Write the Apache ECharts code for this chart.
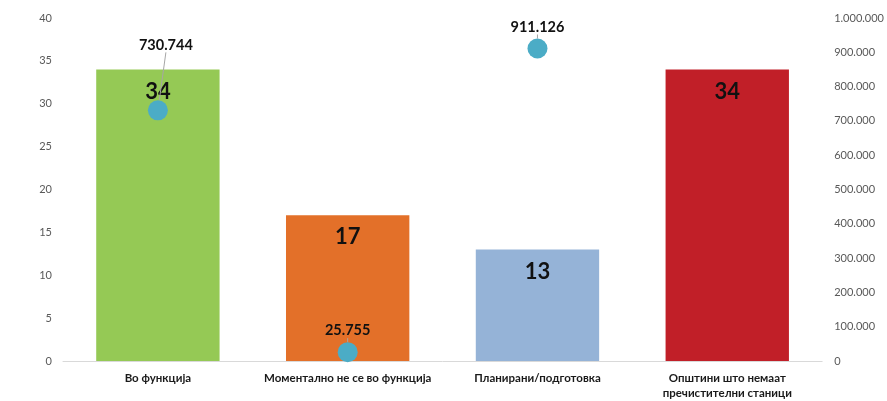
<!DOCTYPE html>
<html>
<head>
<meta charset="utf-8">
<script src="https://cdn.jsdelivr.net/npm/echarts@6/dist/echarts.min.js"></script>
<style>
  html, body { margin: 0; padding: 0; background: #fff; overflow: hidden; }
  #chart { width: 887px; height: 401px; }
</style>
</head>
<body>
<div id="chart"></div>
<script>
// Wastewater treatment status by municipality count, with population served
const categories = [
  'Во функција',
  'Моментално не се во функција',
  'Планирани/подготовка',
  'Општини што немаат\nпречистителни станици'
];
const municipalityCounts = [34, 17, 13, 34];
const population = [730744, 25755, 911126, null];
const barColors = ['#95C955', '#E37029', '#95B3D7', '#C11F28'];
const leftTicks = [0, 40, 5];        // min, max, interval
const rightTicks = [0, 1000000, 100000];

const FONT = 'Lato, "Open Sans", sans-serif';

function fmtThousands(v) {
  return String(Math.round(v)).replace(/\B(?=(\d{3})+(?!\d))/g, '.');
}

const chart = echarts.init(document.getElementById('chart'), null, { renderer: 'canvas' });

chart.setOption({
  animation: false,
  textStyle: { fontFamily: FONT },
  grid: { left: 63, right: 62, top: 18, bottom: 37, containLabel: false },
  xAxis: {
    type: 'category',
    data: categories,
    axisLine: { show: true, lineStyle: { color: '#D9D9D9', width: 1 } },
    axisTick: { show: false },
    axisLabel: {
      color: '#1a1a1a',
      fontWeight: 'bold',
      fontSize: 11.5,
      fontFamily: FONT,
      margin: 10,
      lineHeight: 15,
      interval: 0
    }
  },
  yAxis: [
    {
      type: 'value',
      min: leftTicks[0], max: leftTicks[1], interval: leftTicks[2],
      axisLine: { show: false },
      axisTick: { show: false },
      splitLine: { show: false },
      axisLabel: { color: '#595959', fontSize: 11, fontFamily: FONT, margin: 11 }
    },
    {
      type: 'value',
      position: 'right',
      min: rightTicks[0], max: rightTicks[1], interval: rightTicks[2],
      axisLine: { show: false },
      axisTick: { show: false },
      splitLine: { show: false },
      axisLabel: {
        color: '#595959', fontSize: 11, fontFamily: FONT, margin: 12,
        formatter: v => fmtThousands(v)
      }
    }
  ],
  series: [
    {
      type: 'bar',
      yAxisIndex: 0,
      barWidth: '65%',
      data: municipalityCounts.map((v, i) => ({ value: v, itemStyle: { color: barColors[i] } })),
      label: {
        show: true,
        position: 'insideTop',
        distance: 11,
        color: '#111',
        fontSize: 22,
        fontWeight: 'bold',
        fontFamily: FONT
      },
      z: 1
    },
    {
      type: 'scatter',
      yAxisIndex: 1,
      symbol: 'circle',
      symbolSize: 20,
      itemStyle: { color: '#4BACC6', opacity: 1 },
      data: population,
      label: {
        show: true,
        position: 'top',
        distance: 4,
        color: '#111',
        fontSize: 14.5,
        fontWeight: 'bold',
        fontFamily: FONT,
        formatter: p => fmtThousands(p.value)
      },
      labelLine: { show: true, lineStyle: { color: '#A6A6A6', width: 1 } },
      labelLayout: function (params) {
        if (params.dataIndex === 0) {
          return { dy: -44, dx: 8 };
        }
        return {};
      },
      z: 3
    }
  ]
});
</script>
</body>
</html>
